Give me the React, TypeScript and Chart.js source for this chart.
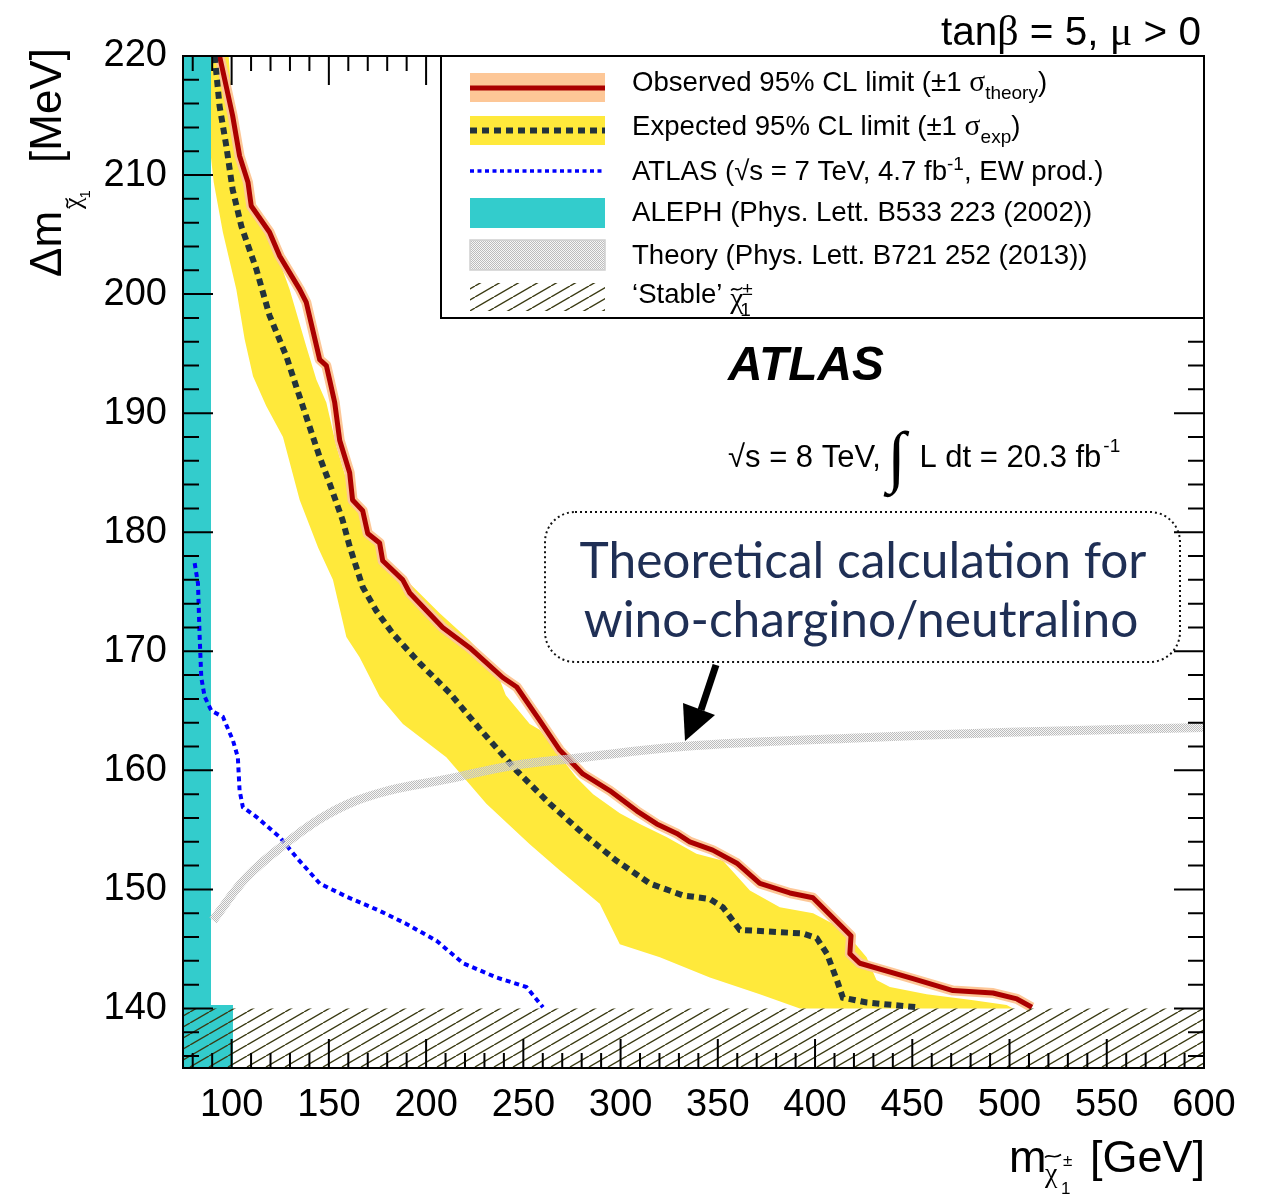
import React, { useEffect, useRef } from 'react';
import { Chart, registerables } from 'chart.js';

Chart.register(...registerables);

const SANS = '"Liberation Sans", Arial, Helvetica, sans-serif';
const SERIF = '"Liberation Serif", "DejaVu Serif", "Times New Roman", serif';

// ---- axes ----
const X_MIN = 75;
const X_MAX = 600;
const Y_MIN = 135;
const Y_MAX = 220;
const X_TICKS = [100, 150, 200, 250, 300, 350, 400, 450, 500, 550, 600];
const Y_TICKS = [140, 150, 160, 170, 180, 190, 200, 210, 220];
const X_MINOR_STEP = 10;
const Y_MINOR_STEP = 2;

// ---- observed limit (red) ----
const OBS_M = [93.8, 100.5, 104.1, 108.4, 110.1, 119.5, 124.7, 135, 138.4, 145.3, 148.7, 150.4, 153, 155.6, 160.7, 162.2, 167.4, 170, 176.1, 177.7, 188, 191.6, 208.5, 222.4, 239.4, 246.6, 258.4, 268.7, 280.6, 294.4, 308.3, 318.6, 328.9, 335.6, 347.4, 359.8, 371.6, 387, 398.9, 418.5, 417.9, 423, 450.3, 470.9, 491.5, 503.8, 511.5];
const OBS_DM = [220, 215, 211.6, 209.4, 207.4, 205.2, 203.2, 200.4, 199.3, 194.5, 194, 192.8, 190.9, 187.7, 185, 182.7, 181.8, 179.9, 179.1, 177.6, 176, 174.9, 172, 170.3, 167.8, 167, 164.2, 161.7, 159.7, 158.3, 156.6, 155.5, 154.7, 154, 153.3, 152.2, 150.5, 149.7, 149.3, 146.1, 144.6, 143.8, 142.5, 141.5, 141.3, 140.8, 140.1];

// ---- expected limit (dashed) ----
const EXP_M = [91.3, 93.8, 97.3, 100.5, 105, 112.7, 119.5, 128.1, 133.3, 145.3, 150.4, 157.1, 160.7, 167.4, 174.4, 182.8, 196.7, 212.1, 227.5, 246.4, 263.6, 280.6, 297.9, 315, 332, 345.9, 352.6, 361.3, 393.7, 400.9, 406.1, 411.2, 414.3, 426.6, 452.4];
const EXP_DM = [220, 215.8, 212.4, 208.8, 205.7, 202.1, 198.2, 194.8, 192.2, 186.3, 184.1, 181, 178.8, 175.4, 173.4, 171.5, 169, 166.5, 163.5, 160, 157.2, 154.7, 152.4, 150.5, 149.5, 149.2, 148.5, 146.6, 146.3, 145.9, 144.6, 142.4, 140.9, 140.5, 140.1];

// ---- expected +-1 sigma band (yellow): outer edge, top to bottom ----
const BAND_HI_M = [98.5, 100.5, 104.1, 108.2, 110.8, 119.5, 129.8, 138.4, 143.6, 148.7, 153.9, 160.7, 169.3, 177.8, 191.6, 207, 222.4, 235.5, 241, 253.3, 258.4, 277.3, 285.9, 299.6, 309.9, 323.6, 339, 352.7, 366.5, 381.9, 399, 412.8, 416.2, 426.5, 431.6, 438.5, 457.4, 481.4, 498.5, 501.8];
const BAND_HI_DM = [220, 215, 211.6, 208.8, 207.1, 205.1, 200.4, 195.6, 192.8, 190.9, 187.2, 183.5, 180.4, 177.9, 175.7, 173.2, 170.9, 168.6, 166.3, 163.9, 163.4, 159.4, 158, 156.4, 155.5, 154.4, 153, 152.4, 149.9, 148.5, 148, 146.8, 146.3, 144.3, 142.4, 141.8, 141.2, 140.7, 140.3, 140];
// inner edge, top to bottom
const BAND_LO_M = [88.7, 89.3, 90.8, 95.5, 102.4, 106.7, 111, 117.8, 126.4, 135, 144.5, 152.1, 159, 165.8, 176.1, 188.1, 210.4, 231, 253.3, 268.7, 279, 289.3, 299.6, 320.2, 345.9, 371.6, 392.2];
const BAND_LO_DM = [220, 211.6, 209.4, 205.2, 200.4, 196.2, 193.1, 190.6, 188, 182.7, 178.7, 176, 171.2, 169.5, 166.2, 163.9, 161.1, 157.2, 153.8, 151.6, 150.2, 148.8, 145.4, 144.3, 142.6, 141.2, 140];

// ---- ATLAS 7 TeV (blue dotted) ----
const A7_M = [81, 82.7, 83.5, 84.4, 86.1, 89.6, 95.5, 100.7, 103.2, 104.1, 105.8, 112.7, 124.7, 133.3, 145.3, 159, 176.1, 189.9, 205.3, 219, 236.2, 251.6, 260.1];
const A7_DM = [177.4, 175.7, 171.5, 167.8, 166.2, 165, 164.5, 162.5, 161.1, 158.3, 156.9, 156.1, 154.4, 152.7, 150.5, 149.4, 148.2, 147.1, 145.7, 143.8, 142.6, 141.8, 140.1];

// ---- Theory curve (grey) ----
const TH_M = [90.4, 107.6, 128.1, 150.4, 176.1, 212.1, 244.5, 276, 332.2, 417.9, 500, 600, 634];
const TH_DM = [147.4, 151, 153.9, 156.4, 158.1, 159.3, 160.4, 161, 162, 162.7, 163.2, 163.6, 163.7];

// ---- ALEPH excluded (cyan) ----
const ALEPH_M = [75, 75, 89.4, 89.4, 100.7, 100.7];
const ALEPH_DM = [135, 220, 220, 140.3, 140.3, 135];

// ---- 'Stable' region (hatched) ----
const STABLE_M = [75, 600, 600, 75];
const STABLE_DM = [135, 135, 140, 140];

const LEGEND_LABELS = [
  'Observed 95% CL limit (±1 ',
  'Expected 95% CL limit (±1 ',
  'ATLAS (',
  'ALEPH (Phys. Lett. B533 223 (2002))',
  'Theory (Phys. Lett. B721 252 (2013))',
  '‘Stable’ ',
];

function pts(xs: number[], ys: number[]) {
  return xs.map((x, i) => ({ x, y: ys[i] }));
}

function makeHatch(ctx0: CanvasRenderingContext2D): CanvasPattern {
  const c = document.createElement('canvas');
  const w = 19;
  const h = 11;
  c.width = w;
  c.height = h;
  const g = c.getContext('2d')!;
  g.strokeStyle = '#3a3a12';
  g.lineWidth = 1.4;
  for (const dx of [-w, 0, w]) {
    g.beginPath();
    g.moveTo(dx, h);
    g.lineTo(dx + w, 0);
    g.stroke();
  }
  return ctx0.createPattern(c, 'repeat')!;
}

function makeChecker(ctx0: CanvasRenderingContext2D): CanvasPattern {
  const c = document.createElement('canvas');
  c.width = 2;
  c.height = 2;
  const g = c.getContext('2d')!;
  g.fillStyle = '#bcbcbc';
  g.fillRect(0, 0, 1, 1);
  g.fillRect(1, 1, 1, 1);
  g.fillStyle = 'rgba(238,238,238,0.45)';
  g.fillRect(1, 0, 1, 1);
  g.fillRect(0, 1, 1, 1);
  return ctx0.createPattern(c, 'repeat')!;
}

type Seg = { t: string; font: string; dx?: number; dy?: number };
function drawRich(ctx: CanvasRenderingContext2D, x: number, y: number, segs: Seg[]) {
  let cx = x;
  for (const s of segs) {
    ctx.font = s.font;
    cx += s.dx || 0;
    ctx.fillText(s.t, cx, y + (s.dy || 0));
    cx += ctx.measureText(s.t).width;
  }
  return cx;
}
function richWidth(ctx: CanvasRenderingContext2D, segs: Seg[]) {
  let w = 0;
  for (const s of segs) {
    ctx.font = s.font;
    w += (s.dx || 0) + ctx.measureText(s.t).width;
  }
  return w;
}
function tilde(ctx: CanvasRenderingContext2D, x: number, y: number, w: number) {
  ctx.save();
  ctx.lineWidth = 1.6;
  ctx.beginPath();
  ctx.moveTo(x, y + 1.5);
  ctx.bezierCurveTo(x + w * 0.3, y - 3.5, x + w * 0.5, y + 4.5, x + w, y - 1.5);
  ctx.stroke();
  ctx.restore();
}

export default function App() {
  const ref = useRef<HTMLCanvasElement | null>(null);

  useEffect(() => {
    document.body.style.margin = '0';
    const canvas = ref.current!;
    const ctx0 = canvas.getContext('2d')!;
    const hatch = makeHatch(ctx0);
    const checker = makeChecker(ctx0);

    const band = [
      ...pts(BAND_HI_M, BAND_HI_DM),
      ...pts(BAND_LO_M, BAND_LO_DM).reverse(),
    ];

    const decor = {
      id: 'decor',
      afterDraw(chart: any) {
        const ctx: CanvasRenderingContext2D = chart.ctx;
        const xs = chart.scales.x;
        const ys = chart.scales.y;
        const { left, right, top, bottom } = chart.chartArea;
        ctx.save();
        ctx.fillStyle = '#000';
        ctx.strokeStyle = '#000';

        // ticks (inside frame, ROOT style)
        ctx.lineWidth = 2;
        ctx.beginPath();
        for (let v = Math.ceil(X_MIN / X_MINOR_STEP) * X_MINOR_STEP; v <= X_MAX; v += X_MINOR_STEP) {
          const px = xs.getPixelForValue(v);
          const len = X_TICKS.includes(v) ? 29 : 15;
          ctx.moveTo(px, bottom);
          ctx.lineTo(px, bottom - len);
          ctx.moveTo(px, top);
          ctx.lineTo(px, top + len);
        }
        for (let v = Y_MIN + 1; v <= Y_MAX; v += Y_MINOR_STEP) {
          const py = ys.getPixelForValue(v);
          const len = Y_TICKS.includes(v) ? 30 : 16;
          ctx.moveTo(left, py);
          ctx.lineTo(left + len, py);
          ctx.moveTo(right, py);
          ctx.lineTo(right - len, py);
        }
        ctx.stroke();
        ctx.lineWidth = 2;
        ctx.strokeRect(left, top, right - left, bottom - top);

        // legend box
        const lx0 = 441;
        const ly0 = top;
        const lx1 = right;
        const ly1 = 318;
        ctx.fillStyle = '#fff';
        ctx.fillRect(lx0, ly0, lx1 - lx0, ly1 - ly0);
        ctx.lineWidth = 2;
        ctx.strokeRect(lx0, ly0, lx1 - lx0, ly1 - ly0);

        const sx = 470;
        const sw = 135;
        // row 0 observed
        ctx.fillStyle = '#fdc797';
        ctx.fillRect(sx, 73, sw, 29);
        ctx.strokeStyle = '#aa0000';
        ctx.lineWidth = 5;
        ctx.beginPath();
        ctx.moveTo(sx, 88);
        ctx.lineTo(sx + sw, 88);
        ctx.stroke();
        // row 1 expected
        ctx.fillStyle = '#ffe93b';
        ctx.fillRect(sx, 116, sw, 29);
        ctx.strokeStyle = '#22333b';
        ctx.lineWidth = 6;
        ctx.setLineDash([7, 5]);
        ctx.beginPath();
        ctx.moveTo(sx, 130.5);
        ctx.lineTo(sx + sw, 130.5);
        ctx.stroke();
        // row 2 atlas 7 TeV
        ctx.strokeStyle = '#0000ff';
        ctx.lineWidth = 3.5;
        ctx.setLineDash([4, 3.5]);
        ctx.beginPath();
        ctx.moveTo(sx, 171);
        ctx.lineTo(sx + sw, 171);
        ctx.stroke();
        ctx.setLineDash([]);
        // row 3 aleph
        ctx.fillStyle = '#33cccc';
        ctx.fillRect(sx, 198, sw, 30);
        // row 4 theory
        ctx.fillStyle = checker;
        ctx.fillRect(sx, 240, sw, 30);
        ctx.strokeStyle = '#cfcfcf';
        ctx.lineWidth = 1.5;
        ctx.strokeRect(sx, 240, sw, 30);
        // row 5 stable
        ctx.fillStyle = hatch;
        ctx.fillRect(sx, 283, sw, 28);

        // legend texts
        ctx.fillStyle = '#000';
        ctx.strokeStyle = '#000';
        ctx.textAlign = 'left';
        ctx.textBaseline = 'alphabetic';
        ctx.font = `100px ${SANS}`;
        const fs = Math.round((461 / ctx.measureText(LEGEND_LABELS[3]).width) * 100 * 10) / 10;
        const F = `${fs}px ${SANS}`;
        const FS = `${Math.round(fs * 0.68)}px ${SANS}`;
        const SIG = `${fs + 2}px ${SERIF}`;
        const tx = 632;
        drawRich(ctx, tx, 91, [
          { t: LEGEND_LABELS[0], font: F },
          { t: 'σ', font: SIG },
          { t: 'theory', font: FS, dy: 8 },
          { t: ')', font: F },
        ]);
        drawRich(ctx, tx, 135, [
          { t: LEGEND_LABELS[1], font: F },
          { t: 'σ', font: SIG },
          { t: 'exp', font: FS, dy: 8 },
          { t: ')', font: F },
        ]);
        drawRich(ctx, tx, 180, [
          { t: LEGEND_LABELS[2], font: F },
          { t: '√s = 7 TeV, 4.7 fb', font: F },
          { t: '-1', font: FS, dy: -10 },
          { t: ', EW prod.)', font: F },
        ]);
        drawRich(ctx, tx, 221, [{ t: LEGEND_LABELS[3], font: F }]);
        drawRich(ctx, tx, 264, [{ t: LEGEND_LABELS[4], font: F }]);
        const cxs = drawRich(ctx, tx, 303, [{ t: LEGEND_LABELS[5], font: F }]);
        ctx.font = `${fs + 2}px ${SERIF}`;
        ctx.fillText('χ', cxs, 308);
        const chw = ctx.measureText('χ').width;
        tilde(ctx, cxs + 1, 289, chw - 2);
        ctx.font = FS;
        ctx.fillText('±', cxs + chw - 1, 295);
        ctx.fillText('1', cxs + chw - 3, 316);

        // top right label
        const TF = `40.5px ${SANS}`;
        const TG = `42px ${SERIF}`;
        const topSegs: Seg[] = [
          { t: 'tan', font: TF },
          { t: 'β', font: TG },
          { t: ' = 5, ', font: TF },
          { t: 'μ', font: TG },
          { t: ' > 0', font: TF },
        ];
        const tw = richWidth(ctx, topSegs);
        drawRich(ctx, 1201 - tw, 45, topSegs);

        // ATLAS label
        ctx.font = `italic bold 100px ${SANS}`;
        const afs = (156 / ctx.measureText('ATLAS').width) * 100;
        ctx.font = `italic bold ${afs}px ${SANS}`;
        ctx.fillText('ATLAS', 728, 380);

        // sqrt s label
        const SF = `31px ${SANS}`;
        let px2 = drawRich(ctx, 728, 467, [{ t: '√s = 8 TeV,', font: SF }]);
        ctx.font = `68px ${SERIF}`;
        ctx.fillText('∫', px2 + 6, 479);
        px2 += 6 + ctx.measureText('∫').width + 14;
        drawRich(ctx, px2, 467, [
          { t: 'L dt = 20.3 fb', font: SF },
          { t: '-1', font: `19px ${SANS}`, dx: 2, dy: -15 },
        ]);

        // callout box
        const bx0 = 545;
        const by0 = 512;
        const bx1 = 1180;
        const by1 = 662;
        const r = 30;
        ctx.save();
        ctx.setLineDash([2, 3]);
        ctx.lineWidth = 2;
        ctx.strokeStyle = '#111';
        ctx.beginPath();
        ctx.moveTo(bx0 + r, by0);
        ctx.lineTo(bx1 - r, by0);
        ctx.arcTo(bx1, by0, bx1, by0 + r, r);
        ctx.lineTo(bx1, by1 - r);
        ctx.arcTo(bx1, by1, bx1 - r, by1, r);
        ctx.lineTo(bx0 + r, by1);
        ctx.arcTo(bx0, by1, bx0, by1 - r, r);
        ctx.lineTo(bx0, by0 + r);
        ctx.arcTo(bx0, by0, bx0 + r, by0, r);
        ctx.closePath();
        ctx.stroke();
        ctx.restore();

        const L1 = 'Theoretical calculation for';
        const L2 = 'wino-chargino/neutralino';
        ctx.font = `100px Lato, "Open Sans", sans-serif`;
        const cfs = (567 / ctx.measureText(L1).width) * 100;
        ctx.font = `${cfs}px Lato, "Open Sans", sans-serif`;
        ctx.fillStyle = '#1f2f55';
        ctx.textAlign = 'center';
        ctx.fillText(L1, 863, 578);
        ctx.fillText(L2, 861, 637);
        ctx.textAlign = 'left';

        // arrow
        ctx.fillStyle = '#000';
        ctx.strokeStyle = '#000';
        ctx.lineWidth = 7;
        ctx.beginPath();
        ctx.moveTo(716, 665);
        ctx.lineTo(701, 710);
        ctx.stroke();
        ctx.beginPath();
        ctx.moveTo(685, 741);
        ctx.lineTo(683, 703);
        ctx.lineTo(715, 715);
        ctx.closePath();
        ctx.fill();

        // y axis title
        ctx.save();
        ctx.translate(61, 277);
        ctx.rotate(-Math.PI / 2);
        ctx.fillStyle = '#000';
        ctx.strokeStyle = '#000';
        ctx.font = `44px ${SANS}`;
        ctx.fillText('Δm', 0, 0);
        const dmw = ctx.measureText('Δm').width;
        ctx.font = `26px ${SERIF}`;
        ctx.fillText('χ', dmw + 2, 20);
        const cw = ctx.measureText('χ').width;
        tilde(ctx, dmw + 3, 6, cw - 2);
        ctx.font = `15px ${SANS}`;
        ctx.fillText('1', dmw + cw + 1, 29);
        ctx.font = `44px ${SANS}`;
        ctx.fillText('[MeV]', 114, 0);
        ctx.restore();

        // x axis title
        ctx.font = `45px ${SANS}`;
        ctx.fillText('m', 1009, 1172);
        ctx.font = `28px ${SERIF}`;
        ctx.fillText('χ', 1045, 1182);
        tilde(ctx, 1045, 1156, 16);
        ctx.font = `17px ${SANS}`;
        ctx.fillText('±', 1063, 1166);
        ctx.fillText('1', 1061, 1194);
        ctx.font = `45px ${SANS}`;
        ctx.textAlign = 'right';
        ctx.fillText('[GeV]', 1205, 1172);
        ctx.restore();
      },
    };

    const chart = new Chart(canvas, {
      type: 'scatter',
      data: {
        datasets: [
          {
            label: "'Stable'",
            data: pts(STABLE_M, STABLE_DM),
            showLine: true,
            fill: 'shape',
            backgroundColor: hatch,
            borderColor: 'rgba(0,0,0,0)',
            borderWidth: 0,
            pointRadius: 0,
            order: 1,
          },
          {
            label: 'Theory',
            data: pts(TH_M, TH_DM),
            showLine: true,
            fill: false,
            borderColor: checker,
            borderWidth: 9,
            tension: 0.4,
            pointRadius: 0,
            clip: false,
            order: 2,
          },
          {
            label: 'ATLAS 7 TeV',
            data: pts(A7_M, A7_DM),
            showLine: true,
            fill: false,
            borderColor: '#0000ff',
            borderWidth: 4,
            borderDash: [5, 4],
            borderCapStyle: 'butt',
            pointRadius: 0,
            order: 3,
          },
          {
            label: 'Expected',
            data: pts(EXP_M, EXP_DM),
            showLine: true,
            fill: false,
            borderColor: '#22333b',
            borderWidth: 6,
            borderDash: [7, 5],
            borderCapStyle: 'butt',
            pointRadius: 0,
            order: 4,
          },
          {
            label: 'Observed',
            data: pts(OBS_M, OBS_DM),
            showLine: true,
            fill: false,
            borderColor: '#aa0000',
            borderWidth: 5,
            borderJoinStyle: 'round',
            pointRadius: 0,
            order: 5,
          },
          {
            label: 'Observed band',
            data: pts(OBS_M, OBS_DM),
            showLine: true,
            fill: false,
            borderColor: '#fdc797',
            borderWidth: 10,
            borderJoinStyle: 'round',
            pointRadius: 0,
            order: 6,
          },
          {
            label: 'ALEPH',
            data: pts(ALEPH_M, ALEPH_DM),
            showLine: true,
            fill: 'shape',
            backgroundColor: '#33cccc',
            borderColor: 'rgba(0,0,0,0)',
            borderWidth: 0,
            pointRadius: 0,
            order: 7,
          },
          {
            label: 'Expected band',
            data: band,
            showLine: true,
            fill: 'shape',
            backgroundColor: '#ffe93b',
            borderColor: 'rgba(0,0,0,0)',
            borderWidth: 0,
            pointRadius: 0,
            order: 8,
          },
        ] as any,
      },
      options: {
        responsive: false,
        animation: false,
        devicePixelRatio: 1,
        layout: { padding: { top: 56, right: 66, left: 0, bottom: 0 } },
        elements: { line: { tension: 0 }, point: { radius: 0 } },
        plugins: { legend: { display: false }, tooltip: { enabled: false } },
        scales: {
          x: {
            type: 'linear',
            min: X_MIN,
            max: X_MAX,
            grid: { display: false, drawTicks: false },
            border: { display: false },
            ticks: {
              font: { family: SANS, size: 38 },
              color: '#000',
              padding: 15,
              maxRotation: 0,
              autoSkip: false,
            },
            afterBuildTicks: (s: any) => {
              s.ticks = X_TICKS.map((v) => ({ value: v }));
            },
            afterFit: (s: any) => {
              s.height = 128;
            },
          },
          y: {
            type: 'linear',
            min: Y_MIN,
            max: Y_MAX,
            grid: { display: false, drawTicks: false },
            border: { display: false },
            ticks: {
              font: { family: SANS, size: 38 },
              color: '#000',
              padding: 16,
              autoSkip: false,
            },
            afterBuildTicks: (s: any) => {
              s.ticks = Y_TICKS.map((v) => ({ value: v }));
            },
            afterFit: (s: any) => {
              s.width = 183;
            },
          },
        },
      } as any,
      plugins: [decor],
    });
    return () => chart.destroy();
  }, []);

  return (
    <div style={{ width: 1270, height: 1196, background: '#fff' }}>
      <canvas ref={ref} width={1270} height={1196} style={{ display: 'block' }} />
    </div>
  );
}
